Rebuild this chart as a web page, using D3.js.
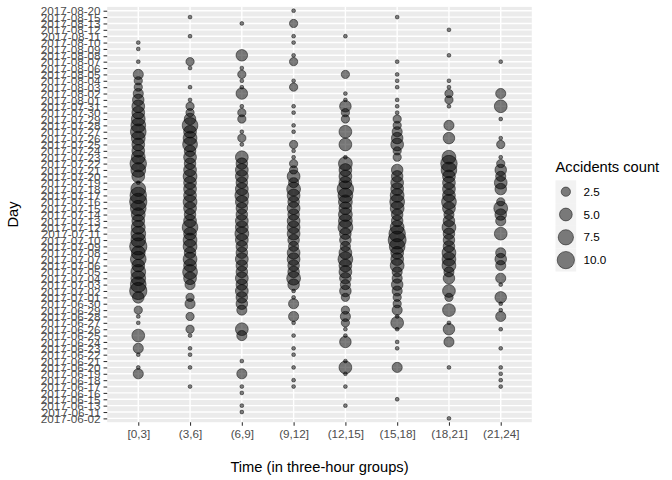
<!DOCTYPE html>
<html lang="en">
<head>
<meta charset="UTF-8" />
<title>Accidents by day and time of day</title>
<style>
  body { margin: 0; background: #fff; }
  svg { display: block; font-family: "Liberation Sans", Arial, Helvetica, sans-serif; }
</style>
</head>
<body>
<svg id="chart" width="672" height="480"></svg>
<script src="https://d3js.org/d3.v7.min.js"></script>
<script>
// y categories, oldest first (bottom of the chart)
const days = [
  "2017-06-02","2017-06-11","2017-06-13","2017-06-15","2017-06-16","2017-06-17","2017-06-18","2017-06-19","2017-06-20",
  "2017-06-21","2017-06-22","2017-06-23","2017-06-24","2017-06-25","2017-06-26","2017-06-27","2017-06-28","2017-06-29","2017-06-30",
  "2017-07-01","2017-07-02","2017-07-03","2017-07-04","2017-07-05","2017-07-06","2017-07-07","2017-07-08","2017-07-09","2017-07-10",
  "2017-07-11","2017-07-12","2017-07-13","2017-07-14","2017-07-15","2017-07-16","2017-07-17","2017-07-18","2017-07-19","2017-07-20",
  "2017-07-21","2017-07-22","2017-07-23","2017-07-24","2017-07-25","2017-07-26","2017-07-27","2017-07-28","2017-07-29","2017-07-30",
  "2017-07-31",
  "2017-08-01","2017-08-02","2017-08-03","2017-08-04","2017-08-05","2017-08-06","2017-08-07","2017-08-08","2017-08-09","2017-08-10",
  "2017-08-11","2017-08-12","2017-08-13","2017-08-15","2017-08-20"
];

const timeGroups = ["[0,3]", "(3,6]", "(6,9]", "(9,12]", "(12,15]", "(15,18]", "(18,21]", "(21,24]"];

// accidents per day in each three-hour group (same order as days; 0 = none)
//                 june (19)                               july (31)                                                         august (15)
const count0to3 = [0,0,0,0,0,0,0,3,1,0,1,3,0,5,0,1,1,2,0,   4,10,8,7,7,5,8,6,10,7,7,6,5,6,8,10,9,7,1,5,7,9,6,5,5,6,8,7,6,5,5,   4,3,2,2,3,0,1,0,1,1,0,0,0,0,0];
const count3to6 = [0,0,0,0,0,1,0,0,1,0,1,1,0,1,2,0,2,0,3,   2,0,3,5,7,5,6,4,6,6,5,8,5,4,5,6,5,5,5,6,5,4,5,4,7,6,5,8,4,2,2,      1,0,1,0,0,1,2,0,0,0,1,0,0,1,0];
const count6to9 = [0,1,1,0,1,1,0,3,0,1,0,0,0,3,5,0,0,3,4,   4,5,4,5,4,4,5,4,4,5,6,5,5,4,4,5,6,5,4,5,5,4,5,0,1,2,1,0,2,2,1,      0,4,1,1,2,1,0,4,0,0,0,0,1,0,0];
const count9to12 = [0,0,0,0,0,1,1,0,1,0,1,1,0,1,0,1,3,0,3,  1,1,4,6,4,4,5,5,3,4,5,5,5,4,5,4,5,6,3,5,2,2,1,1,2,0,1,1,0,1,1,      0,0,2,1,0,0,2,1,0,1,1,0,2,0,1];
const count12to15 = [0,0,1,0,0,1,0,1,5,1,0,0,4,1,1,2,3,2,0, 2,4,3,4,5,5,7,5,3,4,4,7,6,6,5,6,7,9,5,5,5,6,1,0,5,0,5,0,2,2,4,      1,1,0,0,2,0,0,0,0,0,1,0,0,0,0];
const count15to18 = [0,0,0,1,0,0,0,0,3,0,0,1,1,0,1,5,1,3,2, 2,3,4,3,3,6,5,5,8,11,9,6,4,4,6,7,6,5,5,4,4,0,2,2,5,4,3,2,2,1,1,     1,0,1,1,1,0,1,0,0,0,0,0,0,1,0];
const count18to21 = [1,0,0,0,0,0,0,0,1,0,0,0,3,0,4,1,0,5,0, 2,5,0,4,3,6,6,6,4,4,4,6,4,3,5,7,5,5,5,5,8,9,6,0,0,4,0,3,0,0,1,      2,2,1,1,0,0,0,1,0,0,0,1,0,0,0];
const count21to24 = [0,0,0,0,0,1,1,1,1,0,0,1,0,0,1,0,3,1,1, 4,0,1,3,0,3,4,3,0,0,5,0,3,4,6,2,0,4,5,3,4,2,1,0,2,1,0,0,1,0,5,      0,3,0,0,0,0,1,0,0,0,0,0,0,0,0];

const legendBreaks = [2.5, 5, 7.5, 10];

const groupCounts = [count0to3, count3to6, count6to9, count9to12, count12to15, count15to18, count18to21, count21to24];

// long table: one row per (day, group) with at least one accident
const points = [];
groupCounts.forEach((arr, g) => {
  arr.forEach((n, i) => {
    if (n > 0) points.push({ day: days[i], group: timeGroups[g], n: n });
  });
});

const svg = d3.select("#chart");

const panel = { left: 107.2, right: 531.8, top: 6.9, bottom: 422.2 };

const x = d3.scalePoint().domain(timeGroups).range([panel.left, panel.right]).padding(0.6);
const y = d3.scalePoint().domain(days).range([panel.bottom, panel.top]).padding(0.6);

// ggplot-like area scale: size (mm) 1..6 on sqrt of rescaled count
const sizeT = d3.scaleLinear().domain(d3.extent(points, d => d.n)).range([0, 1]);
const radius = v => ((1 + 5 * Math.sqrt(Math.max(0, sizeT(v)))) * 2.845 + 0.945) / 2;

// panel background + grid
svg.append("rect")
  .attr("x", panel.left).attr("y", panel.top)
  .attr("width", panel.right - panel.left).attr("height", panel.bottom - panel.top)
  .attr("fill", "#EBEBEB");

svg.append("g").selectAll("line")
  .data(days).join("line")
  .attr("x1", panel.left).attr("x2", panel.right)
  .attr("y1", d => y(d)).attr("y2", d => y(d))
  .attr("stroke", "#fff").attr("stroke-width", 1.4);

svg.append("g").selectAll("line")
  .data(timeGroups).join("line")
  .attr("y1", panel.top).attr("y2", panel.bottom)
  .attr("x1", d => x(d)).attr("x2", d => x(d))
  .attr("stroke", "#fff").attr("stroke-width", 1.4);

// bubbles
svg.append("g").selectAll("circle")
  .data(points).join("circle")
  .attr("cx", d => x(d.group))
  .attr("cy", d => y(d.day))
  .attr("r", d => radius(d.n))
  .attr("fill", "#000").attr("fill-opacity", 0.5)
  .attr("stroke", "#000").attr("stroke-opacity", 0.5).attr("stroke-width", 0.95);

// axes
const xAxis = svg.append("g")
  .attr("transform", `translate(0,${panel.bottom})`)
  .call(d3.axisBottom(x).tickSize(3.67).tickPadding(2.9));
const yAxis = svg.append("g")
  .attr("transform", `translate(${panel.left},0)`)
  .call(d3.axisLeft(y).tickSize(3.67).tickPadding(2.9));

[xAxis, yAxis].forEach(a => {
  a.select(".domain").remove();
  a.selectAll(".tick line").attr("stroke", "#333333").attr("stroke-width", 1.07);
  a.selectAll(".tick text")
    .attr("fill", "#4D4D4D")
    .style("font-size", "11.7px")
    .style("font-family", "'Liberation Sans', Arial, Helvetica, sans-serif");
});
xAxis.selectAll(".tick text").attr("dy", "0.78em");
yAxis.selectAll(".tick text").attr("dy", "0.35em");

// axis titles
svg.append("text")
  .attr("x", (panel.left + panel.right) / 2).attr("y", 472)
  .attr("text-anchor", "middle")
  .style("font-size", "14.7px")
  .text("Time (in three-hour groups)");

svg.append("text")
  .attr("transform", `translate(18,${(panel.top + panel.bottom) / 2}) rotate(-90)`)
  .attr("text-anchor", "middle")
  .style("font-size", "14.7px")
  .text("Day");

// legend
const legend = svg.append("g").attr("transform", "translate(555.5,0)");
legend.append("text")
  .attr("x", 0).attr("y", 172)
  .style("font-size", "14.7px")
  .text("Accidents count");

const keyH = 22.8, keyW = 20.7, keyTop = 180.3;
const keys = legend.selectAll("g.key")
  .data(legendBreaks).join("g")
  .attr("class", "key")
  .attr("transform", (d, i) => `translate(0,${keyTop + i * keyH})`);
keys.append("rect")
  .attr("width", keyW).attr("height", keyH)
  .attr("fill", "#F2F2F2");
keys.append("circle")
  .attr("cx", keyW / 2).attr("cy", keyH / 2)
  .attr("r", d => radius(d))
  .attr("fill", "#000").attr("fill-opacity", 0.5)
  .attr("stroke", "#000").attr("stroke-opacity", 0.5).attr("stroke-width", 0.95);
keys.append("text")
  .attr("x", keyW + 7.3).attr("y", keyH / 2).attr("dy", "0.35em")
  .style("font-size", "11.7px")
  .text(d => d3.format(".1f")(d));
</script>
</body>
</html>
